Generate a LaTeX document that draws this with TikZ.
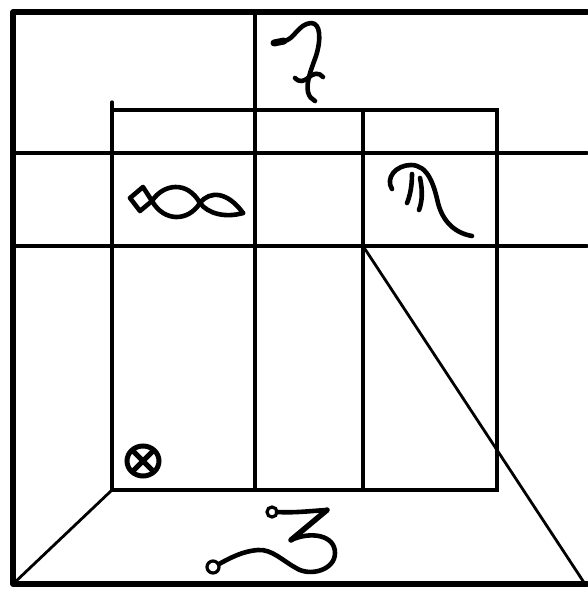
\documentclass[tikz,border=0pt]{standalone}
\begin{document}
\begin{tikzpicture}[x=1pt,y=-1pt,
  framestroke/.style={line width=5.5pt,line cap=round,line join=round},
  gridstroke/.style={line width=3.3pt,line cap=round},
  diagstroke/.style={line width=2.8pt,line cap=round},
  glyph/.style={line width=4.6pt,line cap=round,line join=round}]
\useasboundingbox (0,0) rectangle (587,594);
% named points
\coordinate (TL) at (13,12);
\coordinate (BL) at (13,584);
\coordinate (TR) at (587,12);
\coordinate (BR) at (587,584);
\coordinate (RTL) at (112,110);
\coordinate (RBR) at (497,490);
\coordinate (RBL) at (112,490);
\coordinate (C2) at (363,246);
\coordinate (DE) at (585,584);
% outer frame (open on the right)
\draw[framestroke] (TR) -- (TL) -- (BL) -- (BR);
% horizontal lines
\draw[gridstroke] (13,153) -- (587,153);
\draw[gridstroke] (13,246) -- (587,246);
% back wall
\draw[gridstroke] (RTL) rectangle (RBR);
\draw[gridstroke] (112,102) -- (RTL);
% vertical dividers
\draw[gridstroke] (255,12) -- (255,490);
\draw[gridstroke] (363,110) -- (363,490);
% floor diagonals
\draw[diagstroke] (BL) -- (RBL);
\draw[diagstroke] (C2) -- (DE);
% top glyph
\draw[line width=7pt,line cap=round] (274,43) -- (284,41);
\draw[glyph] (284,41) .. controls (294,40) and (298,24) .. (311,23)
  .. controls (321,23) and (321,40) .. (316,56)
  .. controls (311,70) and (306,82) .. (308,92)
  .. controls (309,97) and (312,99) .. (315,101);
\draw[glyph] (295,78) .. controls (300,83) and (304,81) .. (308,78)
  .. controls (313,73) and (319,72) .. (323,77);
% fish glyph
\draw[glyph] (130,198) -- (143,187) -- (152,201) -- (140,211) -- cycle;
\draw[glyph] (152,201) .. controls (163,184) and (187,180) .. (200,203)
  .. controls (208,214) and (226,218) .. (243,213);
\draw[glyph] (152,201) .. controls (164,222) and (188,222) .. (200,203)
  .. controls (210,190) and (228,192) .. (243,213);
% scorpio-like glyph
\draw[glyph] (392,189) .. controls (385,178) and (396,165) .. (411,165)
  .. controls (428,165) and (434,185) .. (438,203)
  .. controls (443,222) and (455,233) .. (472,236);
\draw[glyph] (412,174) .. controls (412,186) and (410,196) .. (407,203);
\draw[glyph] (420,178) .. controls (423,192) and (422,202) .. (419,210);
% crossed circle
\draw[line width=5pt] (143,461) ellipse [x radius=16, y radius=15];
\draw[line width=5pt] (132,450) -- (154,472);
\draw[line width=5pt] (154,450) -- (132,472);
% hooked three glyph
\draw[line width=3.2pt] (272,512) circle [radius=5];
\draw[line width=3.2pt] (213,567) circle [radius=6];
\draw[glyph] (277,512) .. controls (295,513) and (310,511) .. (327,510);
\draw[line width=5.5pt,line cap=round,line join=round] (327,510) -- (291,540);
\draw[glyph] (291,540) .. controls (311,531) and (335,535) .. (335,553)
  .. controls (335,570) and (310,577) .. (296,568)
  .. controls (283,561) and (272,549) .. (258,550)
  .. controls (243,551) and (230,558) .. (219,564);
\end{tikzpicture}
\end{document}
